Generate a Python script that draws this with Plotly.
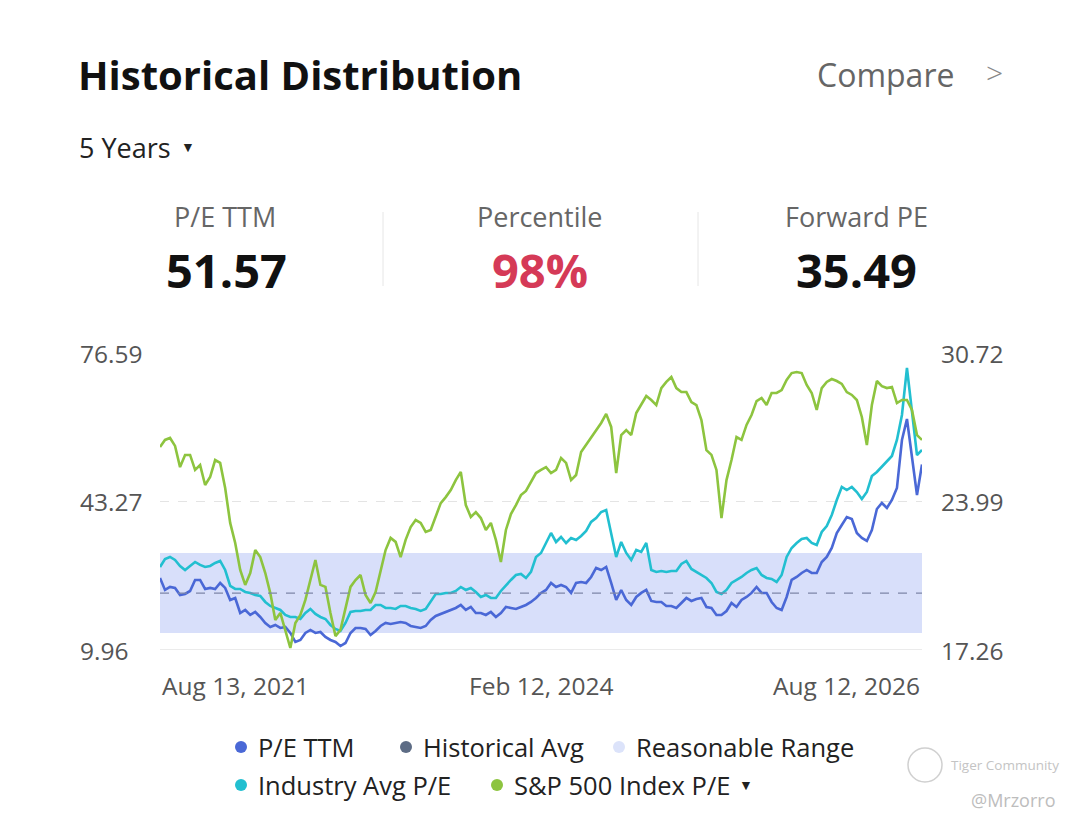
import pandas as pd
import plotly.graph_objects as go

# values, one point roughly every 12 days
pe_ttm = [
    26.12, 23.43, 24.10, 23.88, 22.31, 22.53, 23.20, 25.67, 25.67, 23.65,
    23.88, 23.65, 25.00, 23.88, 21.18, 21.63, 18.26, 18.94, 17.82, 18.49,
    17.37, 16.02, 15.12, 15.57, 14.90, 15.12, 13.78, 11.76, 12.21, 13.78,
    14.45, 13.78, 14.00, 12.88, 12.21, 11.76, 10.86, 11.54, 13.78, 14.90,
    14.90, 14.68, 13.33, 14.23, 15.35, 16.02, 15.80, 16.02, 16.25, 16.02,
    15.35, 15.12, 14.90, 15.35, 16.69, 17.59, 18.04, 18.49, 18.94, 19.39,
    20.06, 18.94, 19.61, 18.26, 18.26, 17.82, 18.49, 17.37, 18.26, 19.61,
    19.39, 19.16, 19.61, 20.06, 20.73, 21.63, 22.76, 23.43, 25.00, 24.10,
    24.55, 24.10, 22.76, 25.00, 25.22, 25.00, 26.34, 28.36, 27.91, 28.59,
    25.00, 21.18, 23.43, 21.18, 20.06, 21.86, 22.76, 23.43, 20.96, 20.73,
    20.73, 19.83, 19.83, 19.39, 20.51, 21.63, 20.96, 21.40, 21.63, 19.61,
    19.39, 17.82, 17.82, 18.71, 20.51, 19.61, 21.18, 21.86, 22.76, 24.10,
    22.76, 22.76, 20.73, 19.39, 18.94, 21.86, 25.67, 26.34, 27.24, 27.91,
    27.24, 27.24, 29.71, 30.83, 32.85, 36.21, 38.01, 39.80, 39.35, 36.21,
    35.09, 34.42, 36.89, 41.59, 42.94, 41.82, 43.61, 46.30, 57.07, 61.78,
    53.26, 44.73, 51.57,
]

industry_pe = [
    28.59, 30.38, 30.83, 30.16, 28.81, 27.91, 28.81, 29.71, 29.04, 28.59,
    28.81, 29.48, 29.93, 27.91, 24.33, 23.65, 23.65, 22.98, 22.76, 22.31,
    22.08, 20.74, 19.84, 19.39, 18.94, 17.82, 17.37, 17.37, 16.92, 18.27,
    19.17, 18.05, 17.37, 16.92, 15.58, 14.68, 14.23, 16.03, 18.49, 18.72,
    18.72, 18.94, 18.94, 20.06, 20.06, 19.39, 19.39, 19.17, 19.84, 19.84,
    19.39, 19.17, 18.72, 19.17, 20.74, 22.53, 22.53, 22.76, 22.76, 23.20,
    24.10, 23.43, 23.88, 22.98, 21.86, 22.31, 21.63, 21.63, 23.20, 24.55,
    25.67, 26.79, 27.02, 26.12, 27.47, 30.83, 31.73, 33.97, 36.21, 34.19,
    35.32, 33.97, 35.09, 34.64, 35.54, 36.66, 38.68, 39.58, 40.92, 41.37,
    36.21, 30.83, 34.19, 31.73, 30.16, 32.40, 31.95, 33.97, 27.91, 27.47,
    27.69, 27.47, 27.69, 27.69, 29.26, 29.93, 28.14, 27.47, 26.79, 26.12,
    25.00, 22.98, 22.53, 23.43, 25.00, 25.67, 26.34, 27.24, 27.91, 28.36,
    26.79, 26.12, 25.90, 25.22, 26.79, 30.83, 32.85, 33.97, 34.87, 35.09,
    33.97, 33.52, 36.44, 37.78, 40.25, 43.61, 46.53, 45.85, 46.53, 45.40,
    43.83, 45.40, 48.99, 49.89, 51.01, 52.36, 53.48, 57.07, 62.68, 73.23,
    63.80, 53.70, 54.83,
]

sp500_pe = [
    26.46, 26.78, 26.87, 26.51, 25.55, 26.10, 26.10, 25.42, 25.64, 24.74,
    25.10, 25.87, 25.74, 24.60, 23.02, 22.11, 20.89, 20.21, 20.75, 21.79,
    21.47, 20.75, 19.84, 18.62, 18.94, 18.17, 17.35, 18.48, 18.85, 19.53,
    20.43, 21.34, 20.21, 20.12, 18.94, 17.89, 18.17, 19.16, 20.12, 20.43,
    20.66, 19.75, 19.39, 19.89, 20.80, 21.79, 22.34, 22.16, 21.47, 22.25,
    22.83, 23.15, 23.02, 22.61, 22.70, 23.29, 23.92, 24.19, 24.51, 24.96,
    25.33, 23.83, 23.29, 23.51, 23.24, 22.70, 23.02, 22.25, 21.25, 22.70,
    23.42, 23.83, 24.28, 24.47, 24.87, 25.28, 25.42, 25.55, 25.28, 25.42,
    25.96, 25.74, 24.96, 25.19, 26.23, 26.55, 26.91, 27.23, 27.55, 27.96,
    27.37, 25.28, 27.00, 27.23, 27.00, 28.00, 28.36, 28.77, 28.59, 28.36,
    29.13, 29.41, 29.63, 29.13, 28.95, 28.95, 28.50, 28.36, 27.68, 26.32,
    26.10, 25.42, 23.24, 24.96, 25.87, 26.91, 26.78, 27.46, 27.91, 28.54,
    28.68, 28.36, 28.91, 28.91, 29.04, 29.50, 29.81, 29.86, 29.81, 29.27,
    28.91, 28.14, 29.13, 29.41, 29.54, 29.45, 29.32, 28.95, 28.82, 28.59,
    27.82, 26.55, 28.36, 29.45, 29.22, 29.13, 29.18, 28.45, 28.59, 28.59,
    28.14, 27.00, 26.78,
]

start_date = "2021-08-13"
end_date = "2026-08-12"
x_tick_dates = ["2021-08-13", "2024-02-12", "2026-08-12"]
x_tick_labels = ["Aug 13, 2021", "Feb 12, 2024", "Aug 12, 2026"]

left_ticks = [9.96, 43.27, 76.59]
right_ticks = [17.26, 23.99, 30.72]

hist_avg = 22.74
range_low = 13.77
range_high = 31.72

FONT = "Open Sans"
# page has an 8px body margin, so the figure is drawn 8px in from the corner
OFF = 8
W, H = 1080 - OFF, 824 - OFF


def px(x, y):
    # screen pixel position -> paper coords
    return (x - OFF) / W, 1 - (y - OFF) / H


def dates(values):
    return pd.date_range(start_date, end_date, periods=len(values))


fig = go.Figure()

fig.add_trace(go.Scatter(x=dates(industry_pe), y=industry_pe, mode="lines",
                         line=dict(color="#22bfd0", width=2.6), name="Industry Avg P/E"))
fig.add_trace(go.Scatter(x=dates(pe_ttm), y=pe_ttm, mode="lines",
                         line=dict(color="#4a68d6", width=2.6), name="P/E TTM"))
fig.add_trace(go.Scatter(x=dates(sp500_pe), y=sp500_pe, mode="lines", yaxis="y2",
                         line=dict(color="#8dc43f", width=2.6), name="S&P 500 Index P/E"))

# reasonable range band + historical average
fig.add_shape(type="rect", xref="x domain", yref="y", x0=0, x1=1, y0=range_low, y1=range_high,
              fillcolor="#d8dffa", line_width=0, layer="below")
fig.add_shape(type="line", xref="x domain", yref="y", x0=0, x1=1, y0=hist_avg, y1=hist_avg,
              line=dict(color="#7d86a8", width=1.2, dash="dash"))

x0, _ = px(160, 0)
x1, _ = px(922, 0)
_, ytop = px(0, 353)
_, ybot = px(0, 650)

fig.update_layout(
    width=W, height=H,
    margin=dict(l=0, r=0, t=0, b=0),
    paper_bgcolor="white", plot_bgcolor="white",
    showlegend=False,
    font=dict(family=FONT),
    xaxis=dict(type="date", domain=[x0, x1], range=[start_date, end_date],
               showgrid=False, showticklabels=False, zeroline=False,
               showline=False, fixedrange=True),
    yaxis=dict(domain=[ybot, ytop], range=[left_ticks[0], left_ticks[-1]],
               tickvals=left_ticks, showticklabels=False, gridcolor="#e4e4e4",
               griddash="dash", gridwidth=1, zeroline=False, fixedrange=True),
    yaxis2=dict(overlaying="y", side="right", range=[right_ticks[0], right_ticks[-1]],
                showgrid=False, showticklabels=False, zeroline=False, fixedrange=True),
)

# solid baseline at the bottom of the plot
fig.add_shape(type="line", xref="x domain", yref="y", x0=0, x1=1,
              y0=left_ticks[0], y1=left_ticks[0], line=dict(color="#e4e4e4", width=1.5))

ann = []


def text(x, y, s, size, color="#222", bold=False, anchor="left", weight=None):
    xp, yp = px(x, y)
    ann.append(dict(x=xp, y=yp, xref="paper", yref="paper", text=s, showarrow=False,
                    xanchor=anchor, yanchor="middle",
                    font=dict(family=FONT, size=size, color=color,
                              weight=weight if weight else (700 if bold else 400))))


# header
text(76, 74, "Historical Distribution", 40, "#111", bold=True)
text(956, 74, "Compare", 32, "#666", anchor="right")
text(1005, 73, ">", 30, "#888", anchor="right", weight=300)
text(77, 147, "5 Years", 27, "#222")
text(179, 146, "▼", 14, "#222")

# stats row
text(225, 217, "P/E TTM", 27, "#666", anchor="center")
text(226, 270, "51.57", 47, "#111", bold=True, anchor="center")
text(540, 217, "Percentile", 27, "#666", anchor="center")
text(540, 270, "98%", 47, "#d53a57", bold=True, anchor="center")
text(856, 217, "Forward PE", 27, "#666", anchor="center")
text(856, 270, "35.49", 47, "#111", bold=True, anchor="center")
for xd in (383, 698):
    xa, ya = px(xd, 212)
    _, yb = px(xd, 286)
    fig.add_shape(type="line", xref="paper", yref="paper", x0=xa, x1=xa, y0=yb, y1=ya,
                  line=dict(color="#e6e6e6", width=1))

# y tick labels
for v in left_ticks:
    ann.append(dict(x=px(78, 0)[0], y=v, xref="paper", yref="y", text=f"{v:.2f}",
                    showarrow=False, xanchor="left", yanchor="middle",
                    font=dict(family=FONT, size=24.5, color="#555")))
for v in right_ticks:
    ann.append(dict(x=px(1005, 0)[0], y=v, xref="paper", yref="y2", text=f"{v:.2f}",
                    showarrow=False, xanchor="right", yanchor="middle",
                    font=dict(family=FONT, size=24.5, color="#555")))

# x tick labels
for d, lab, anc in zip(x_tick_dates, x_tick_labels, ["left", "center", "right"]):
    ann.append(dict(x=d, y=px(0, 685)[1], xref="x", yref="paper", text=lab,
                    showarrow=False, xanchor=anc, yanchor="middle",
                    font=dict(family=FONT, size=24.5, color="#555")))

# legend
legend_items = [
    (241, 747, "#4a68d6", "P/E TTM"),
    (406, 747, "#5d6c85", "Historical Avg"),
    (619, 747, "#dce3fa", "Reasonable Range"),
    (241, 785, "#22bfd0", "Industry Avg P/E"),
    (497, 785, "#8dc43f", "S&P 500 Index P/E"),
]
for cx, cy, col, lab in legend_items:
    xa, ya = px(cx - 6, cy - 6)
    xb, yb = px(cx + 6, cy + 6)
    fig.add_shape(type="circle", xref="paper", yref="paper", x0=xa, x1=xb, y0=yb, y1=ya,
                  fillcolor=col, line_width=0)
    text(cx + 15, cy, lab, 25.5, "#222")
text(737, 784, "▼", 14, "#222")

# watermark
xa, ya = px(908, 748)
xb, yb = px(942, 782)
fig.add_shape(type="circle", xref="paper", yref="paper", x0=xa, x1=xb, y0=yb, y1=ya,
              line=dict(color="#d0d0d0", width=1.5))
text(949, 765, "Tiger Community", 13.5, "#c4c4c4")
text(1058, 800, "@Mrzorro", 18, "#bdbdbd", anchor="right")

fig.update_layout(annotations=ann)

fig.write_html("out.html")
